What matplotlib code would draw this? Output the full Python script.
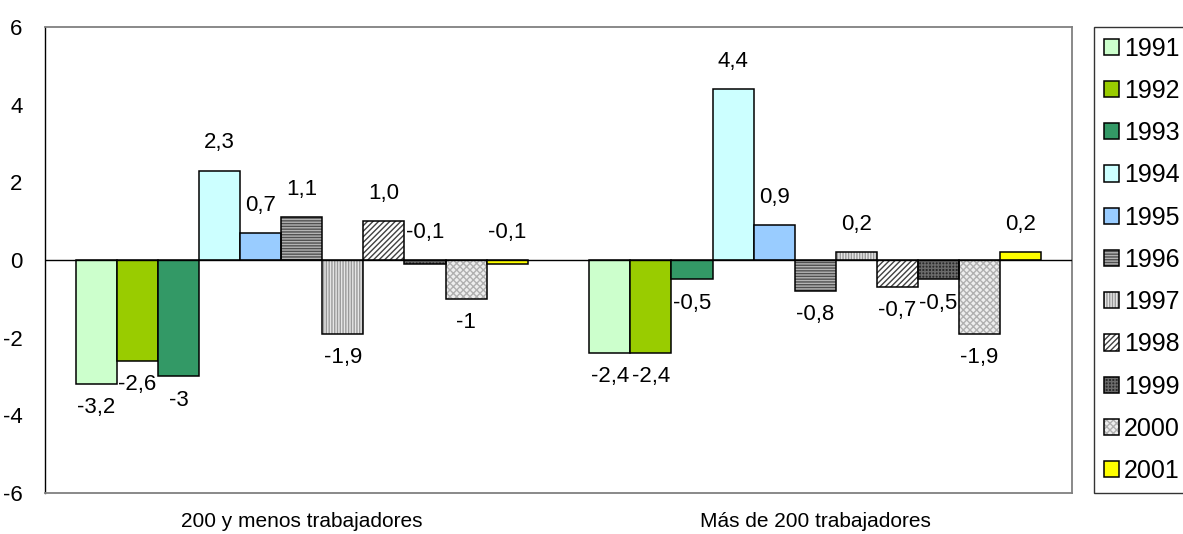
import numpy as np
import matplotlib
matplotlib.use('Agg')
import matplotlib.pyplot as plt
from matplotlib.patches import Patch
from matplotlib.legend_handler import HandlerTuple

plt.rcParams['font.family'] = ['Liberation Sans', 'DejaVu Sans']
plt.rcParams['hatch.linewidth'] = 1.0
plt.rcParams['axes.unicode_minus'] = False

groups = ['200 y menos trabajadores', 'Más de 200 trabajadores']
years = ['1991', '1992', '1993', '1994', '1995', '1996',
         '1997', '1998', '1999', '2000', '2001']
small = [-3.2, -2.6, -3.0, 2.3, 0.7, 1.1, -1.9, 1.0, -0.1, -1.0, -0.1]
large = [-2.4, -2.4, -0.5, 4.4, 0.9, -0.8, 0.2, -0.7, -0.5, -1.9, 0.2]
small_labels = ['-3,2', '-2,6', '-3', '2,3', '0,7', '1,1', '-1,9', '1,0', '-0,1', '-1', '-0,1']
large_labels = ['-2,4', '-2,4', '-0,5', '4,4', '0,9', '-0,8', '0,2', '-0,7', '-0,5', '-1,9', '0,2']

# fill, hatch, hatch colour per year
styles = [
    ('#CCFFCC', None, None),
    ('#99CC00', None, None),
    ('#339966', None, None),
    ('#CCFFFF', None, None),
    ('#99CCFF', None, None),
    ('#B4B4B4', '------', '#505050'),
    ('#E6E6E6', '||||||', '#9A9A9A'),
    ('#FFFFFF', '//////', '#404040'),
    ('#2A2A2A', '+++++', '#6A6A6A'),
    ('#EEEEEE', 'xxxxx', '#B0B0B0'),
    ('#FFFF00', None, None),
]

fig = plt.figure(figsize=(11.83, 5.34), dpi=100)
ax = fig.add_axes([0.0380, 0.0768, 0.8682, 0.8727])

x = np.arange(len(groups))
w = 0.08
handles = []
for i, yr in enumerate(years):
    vals = [small[i], large[i]]
    labs = [small_labels[i], large_labels[i]]
    xi = x + (i - 5) * w
    fc, h, hc = styles[i]
    if h:
        ax.bar(xi, vals, w, color=fc, hatch=h, edgecolor=hc, linewidth=0, zorder=2)
        ax.bar(xi, vals, w, facecolor='none', edgecolor='black', linewidth=1.1, zorder=3)
        handles.append((Patch(facecolor=fc, hatch=h, edgecolor=hc, linewidth=0),
                        Patch(facecolor='none', edgecolor='black', linewidth=1.1)))
    else:
        ax.bar(xi, vals, w, color=fc, edgecolor='black', linewidth=1.1, zorder=3)
        handles.append(Patch(facecolor=fc, edgecolor='black', linewidth=1.1))
    for xx, v, s in zip(xi, vals, labs):
        if v >= 0 or abs(v) < 0.15:
            ax.annotate(s, (xx, max(v, 0)), xytext=(0, 20), textcoords='offset points',
                        ha='center', va='center', fontsize=16)
        else:
            ax.annotate(s, (xx, v), xytext=(0, -17), textcoords='offset points',
                        ha='center', va='center', fontsize=16)

ax.axhline(0, color='black', linewidth=1, zorder=4)
ax.set_xlim(-0.5, 1.5)
ax.set_ylim(-6, 6)
ax.set_yticks([-6, -4, -2, 0, 2, 4, 6])
ax.set_xticks(x)
ax.set_xticklabels(groups, fontsize=15)
ax.tick_params(axis='y', length=0, pad=16, labelsize=16)
ax.tick_params(axis='x', length=0, pad=14)
for side in ['top', 'right', 'bottom']:
    ax.spines[side].set_color('#808080')
    ax.spines[side].set_linewidth(1.3)
ax.spines['left'].set_color('black')
ax.spines['left'].set_linewidth(1.0)

leg = fig.legend(handles, years, loc='upper left', bbox_to_anchor=(0.9248, 0.9494),
                 handler_map={tuple: HandlerTuple(ndivide=1, pad=0)},
                 fontsize=18, frameon=True, fancybox=False, edgecolor='black',
                 handlelength=0.62, handleheight=0.62, handletextpad=0.2,
                 labelspacing=0.73, borderpad=0.38, borderaxespad=0)
leg.get_frame().set_linewidth(1.0)

fig.savefig('out.png', dpi=100)
